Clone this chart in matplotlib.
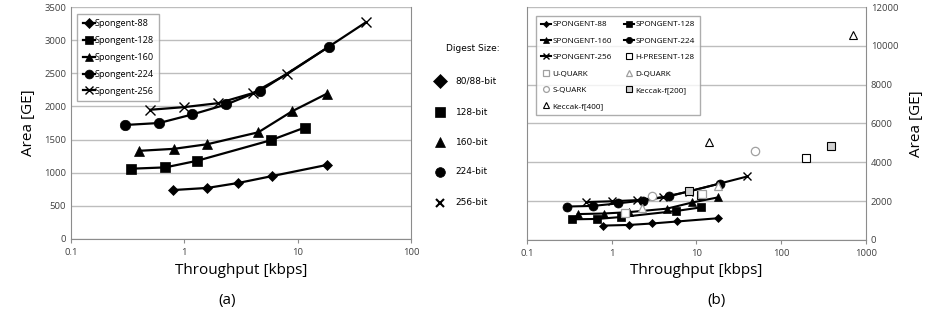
import matplotlib.pyplot as plt
from matplotlib.lines import Line2D

plt.rcParams['font.family'] = ['Open Sans', 'DejaVu Sans']

# Spongent varianten: deurset [kbps] en area [GE]
sp88_x = [0.8, 1.6, 3.0, 6.0, 18.0]
sp88_y = [738, 770, 845, 950, 1116]
sp128_x = [0.34, 0.68, 1.3, 5.8, 11.5]
sp128_y = [1060, 1080, 1180, 1490, 1680]
sp160_x = [0.4, 0.81, 1.6, 4.5, 9.0, 18.0]
sp160_y = [1330, 1360, 1430, 1610, 1930, 2190]
sp224_x = [0.3, 0.6, 1.18, 2.35, 4.7, 18.8]
sp224_y = [1720, 1750, 1880, 2030, 2240, 2900]
sp256_x = [0.5, 1.0, 2.0, 4.0, 8.1, 40.0]
sp256_y = [1950, 1990, 2050, 2200, 2490, 3270]

spongent = [
    ("88", sp88_x, sp88_y, "D", 5.5),
    ("128", sp128_x, sp128_y, "s", 6.5),
    ("160", sp160_x, sp160_y, "^", 6.5),
    ("224", sp224_x, sp224_y, "o", 7.5),
    ("256", sp256_x, sp256_y, "x", 6.5),
]

# Ander hash funksies (b)
hpresent_x = [11.45, 196]
hpresent_y = [2330, 4220]
uquark_x = [1.46, 11.8]
uquark_y = [1390, 2370]
dquark_x = [2.27, 18.2]
dquark_y = [1650, 2780]
squark_x = [3.04, 49]
squark_y = [2270, 4580]
keccak200_x = [8.1, 390]
keccak200_y = [2520, 4840]
keccak400_x = [14.2, 700]
keccak400_y = [5050, 10560]

digest_labels = ["80/88-bit", "128-bit", "160-bit", "224-bit", "256-bit"]

grid_c = "#bdbdbd"
spine_c = "#8c8c8c"
tick_c = "#404040"

fig = plt.figure(figsize=(9.34, 3.22), dpi=100)
ax1 = fig.add_axes([0.076, 0.258, 0.364, 0.72])
ax2 = fig.add_axes([0.564, 0.255, 0.363, 0.723])


def style(ax, ymax, ystep, right=False):
    ax.set_xscale("log")
    ax.set_ylim(0, ymax)
    ax.set_yticks(range(0, ymax + 1, ystep))
    ax.yaxis.grid(True, color=grid_c, lw=1)
    ax.set_axisbelow(True)
    ax.minorticks_off()
    ax.spines["top"].set_visible(False)
    for s in ["left", "right", "bottom"]:
        ax.spines[s].set_color(spine_c)
    ax.tick_params(axis="both", colors=spine_c, labelcolor=tick_c, labelsize=6.8,
                   length=3, width=0.8)
    ax.tick_params(axis="y", length=0)
    ax.xaxis.set_major_formatter(plt.FuncFormatter(lambda v, p: f"{v:g}"))
    if right:
        ax.yaxis.tick_right()
        ax.yaxis.set_label_position("right")
        ax.set_ylabel("Area [GE]", fontsize=11, labelpad=8)
    else:
        ax.set_ylabel("Area [GE]", fontsize=11, labelpad=6)
    ax.set_xlabel("Throughput [kbps]", fontsize=11, labelpad=4)


# (a)
for naam, xs, ys, m, ms in spongent:
    ax1.plot(xs, ys, color="black", lw=1.6, marker=m, ms=ms,
             mew=1.0 if m == "x" else 0.5, label="Spongent-" + naam)
ax1.set_xlim(0.1, 100)
style(ax1, 3500, 500)
ax1.legend(loc="upper left", fontsize=6.6, frameon=True, fancybox=False,
           edgecolor="#999999", handlelength=1.3, handletextpad=0.0,
           labelspacing=0.85, borderpad=0.6, markerscale=0.85,
           bbox_to_anchor=(0.005, 0.99))

# (b)
h = {}
for naam, xs, ys, m, ms in spongent:
    h["SPONGENT-" + naam], = ax2.plot(xs, ys, color="black", lw=1.5, marker=m,
                                      ms=ms - 1, mew=1.0 if m == "x" else 0.5)
h["H-PRESENT-128"], = ax2.plot(hpresent_x, hpresent_y, ls="none", marker="s", ms=6,
                               mfc="white", mec="black", mew=0.8)
h["U-QUARK"], = ax2.plot(uquark_x, uquark_y, ls="none", marker="s", ms=6,
                         mfc="white", mec="#a0a0a0", mew=0.9)
h["D-QUARK"], = ax2.plot(dquark_x, dquark_y, ls="none", marker="^", ms=6,
                         mfc="white", mec="#a0a0a0", mew=0.9)
h["S-QUARK"], = ax2.plot(squark_x, squark_y, ls="none", marker="o", ms=6,
                         mfc="white", mec="#a0a0a0", mew=0.9)
h["Keccak-f[200]"], = ax2.plot(keccak200_x, keccak200_y, ls="none", marker="s", ms=6,
                               mfc="#d0d0d0", mec="black", mew=0.8)
h["Keccak-f[400]"], = ax2.plot(keccak400_x, keccak400_y, ls="none", marker="^", ms=6,
                               mfc="white", mec="black", mew=0.8)
ax2.set_xlim(0.1, 1000)
style(ax2, 12000, 2000, right=True)

# matplotlib vul kolom-vir-kolom, die oorspronklike ry-vir-ry
volgorde = ["SPONGENT-88", "SPONGENT-160", "SPONGENT-256", "U-QUARK", "S-QUARK",
            "Keccak-f[400]", "SPONGENT-128", "SPONGENT-224", "H-PRESENT-128",
            "D-QUARK", "Keccak-f[200]"]
ax2.legend([h[k] for k in volgorde], volgorde, loc="upper left", ncol=2,
           fontsize=5.9, frameon=True, fancybox=False, edgecolor="#999999",
           handlelength=1.2, handletextpad=0.2, labelspacing=1.05,
           columnspacing=1.5, borderpad=0.6, markerscale=0.7,
           bbox_to_anchor=(0.015, 0.98))

fig.text(0.243, 0.055, "(a)", fontsize=11, ha="center")
fig.text(0.767, 0.055, "(b)", fontsize=11, ha="center")

# Digest grootte sleutel
fig.text(0.478, 0.848, "Digest Size:", fontsize=6.5, family="DejaVu Sans", va="center")
mk = ["D", "s", "^", "o", "x"]
ys_key = [0.749, 0.652, 0.559, 0.466, 0.370]
for m, lbl, yk in zip(mk, digest_labels, ys_key):
    fig.add_artist(Line2D([0.471], [yk], marker=m, color="black", ms=7 if m != "x" else 6,
                          mew=1.5 if m == "x" else 0.5, ls="none",
                          transform=fig.transFigure))
    fig.text(0.488, yk, lbl, fontsize=6.5, family="DejaVu Sans", va="center")

fig.savefig("out.png", dpi=100)
